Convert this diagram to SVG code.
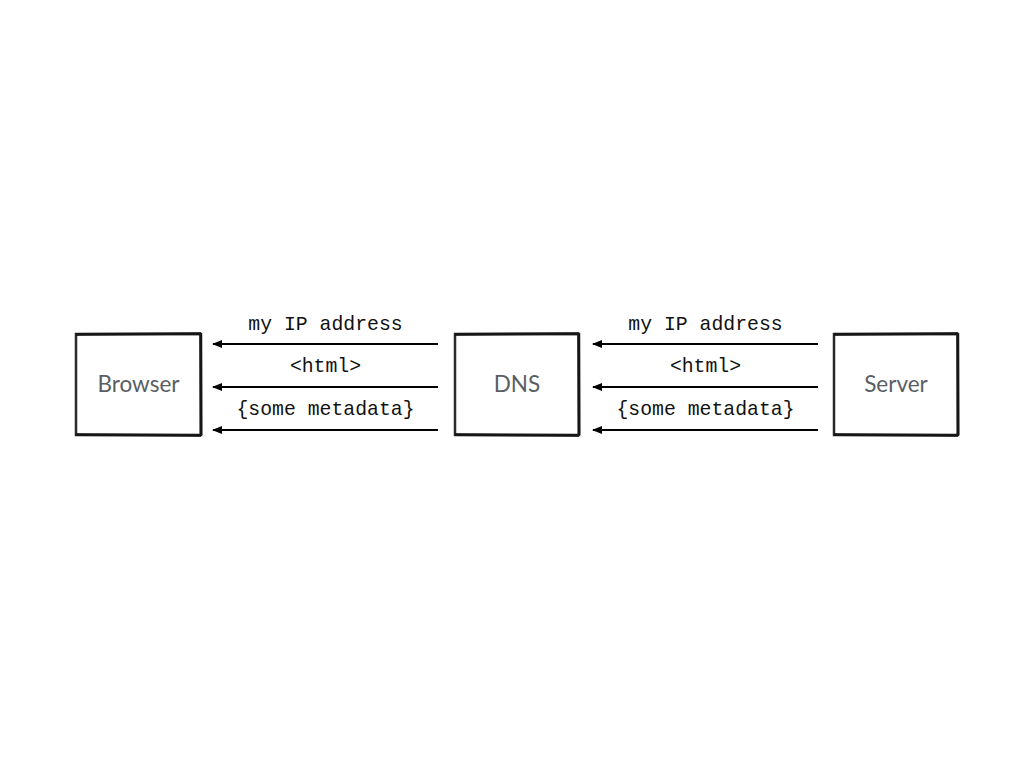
<svg xmlns="http://www.w3.org/2000/svg" width="1024" height="768" viewBox="0 0 1024 768">
<style>
.box{fill:#fff;stroke:#2a2a2a;stroke-width:2.5}
.edge{stroke:#111;stroke-width:3;fill:none;opacity:0.8}
.lbl{font-family:"Lato","Open Sans",sans-serif;font-size:22.5px;fill:#5a5e64;text-anchor:middle}
.msg{font-family:"Liberation Mono",monospace;font-size:19.8px;fill:#111;text-anchor:middle}
.ln{stroke:#000;stroke-width:2;fill:none}
</style>
<defs>
<marker id="ah" markerWidth="10" markerHeight="8" refX="9" refY="4" orient="auto" markerUnits="userSpaceOnUse">
<path d="M0,0 L10,4 L0,8 z" fill="#000"/>
</marker>
</defs>
<rect width="1024" height="768" fill="#fff"/>
<g id="browser">
<rect class="box" x="76" y="334" width="125" height="101"/>
<path class="edge" d="M76,334.5 L201,333.5 M200.5,334 L201,435 M76,434.5 L201,435.5"/>
<text class="lbl" x="138.5" y="392">Browser</text>
</g>
<g id="dns">
<rect class="box" x="455" y="334" width="124" height="101"/>
<path class="edge" d="M455,334.5 L579,333.5 M578.5,334 L579,435 M455,434.5 L579,435.5"/>
<text class="lbl" x="517" y="392">DNS</text>
</g>
<g id="server">
<rect class="box" x="834" y="334" width="124" height="101"/>
<path class="edge" d="M834,334.5 L958,333.5 M957.5,334 L958,435 M834,434.5 L958,435.5"/>
<text class="lbl" x="896" y="392">Server</text>
</g>
<g id="connectors">
<line class="ln" x1="438" y1="344" x2="213" y2="344" marker-end="url(#ah)"/>
<line class="ln" x1="438" y1="387" x2="213" y2="387" marker-end="url(#ah)"/>
<line class="ln" x1="438" y1="430" x2="213" y2="430" marker-end="url(#ah)"/>
<line class="ln" x1="818" y1="344" x2="593" y2="344" marker-end="url(#ah)"/>
<line class="ln" x1="818" y1="387" x2="593" y2="387" marker-end="url(#ah)"/>
<line class="ln" x1="818" y1="430" x2="593" y2="430" marker-end="url(#ah)"/>
<text class="msg" x="325.5" y="330">my IP address</text>
<text class="msg" x="325.5" y="372">&lt;html&gt;</text>
<text class="msg" x="325.5" y="415">{some metadata}</text>
<text class="msg" x="705.5" y="330">my IP address</text>
<text class="msg" x="705.5" y="372">&lt;html&gt;</text>
<text class="msg" x="705.5" y="415">{some metadata}</text>
</g>
</svg>
